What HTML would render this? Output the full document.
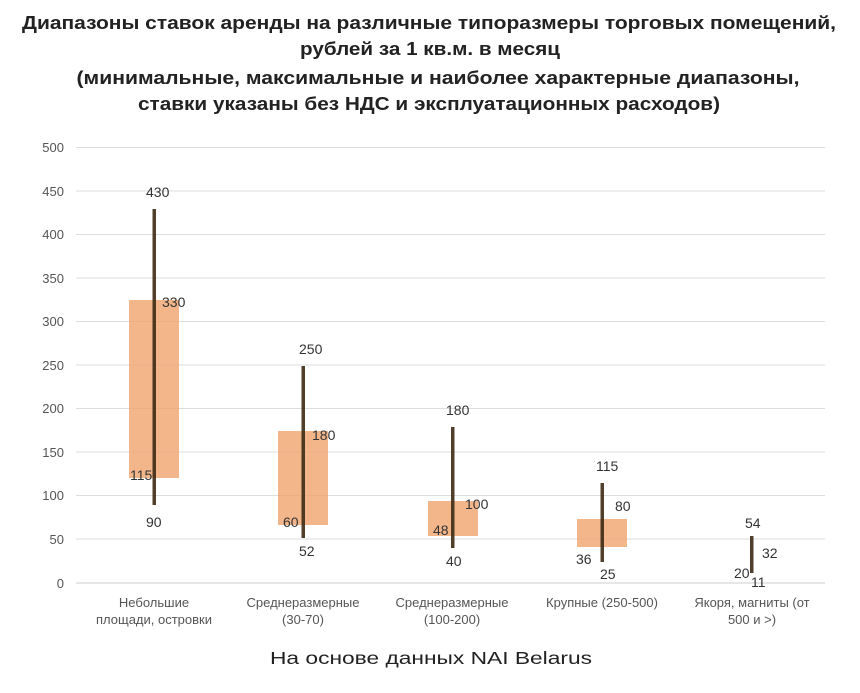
<!DOCTYPE html>
<html><head><meta charset="utf-8"><style>
body{margin:0;background:#fff;width:860px;height:688px;overflow:hidden;font-family:"Liberation Sans",sans-serif}
</style></head><body>
<svg width="860" height="688" xmlns="http://www.w3.org/2000/svg" font-family="Liberation Sans, sans-serif">
<g font-weight="bold" font-size="18.5" fill="#222" text-anchor="middle">
<text x="429" y="29" textLength="814" lengthAdjust="spacingAndGlyphs">Диапазоны ставок аренды на различные типоразмеры торговых помещений,</text>
<text x="430" y="55" textLength="260" lengthAdjust="spacingAndGlyphs">рублей за 1 кв.м. в месяц</text>
<text x="438" y="84" textLength="723" lengthAdjust="spacingAndGlyphs">(минимальные, максимальные и наиболее характерные диапазоны,</text>
<text x="429" y="110" textLength="582" lengthAdjust="spacingAndGlyphs">ставки указаны без НДС и эксплуатационных расходов)</text>
</g>
<g stroke="#ddd" stroke-width="1">
<line x1="76" x2="825" y1="147.5" y2="147.5"/><line x1="76" x2="825" y1="191" y2="191"/>
<line x1="76" x2="825" y1="234.5" y2="234.5"/><line x1="76" x2="825" y1="278" y2="278"/>
<line x1="76" x2="825" y1="321.5" y2="321.5"/><line x1="76" x2="825" y1="365" y2="365"/>
<line x1="76" x2="825" y1="408.5" y2="408.5"/><line x1="76" x2="825" y1="452" y2="452"/>
<line x1="76" x2="825" y1="495.5" y2="495.5"/><line x1="76" x2="825" y1="539" y2="539"/>
<line x1="76" x2="825" y1="583" y2="583" stroke="#ccc"/>
</g>
<g font-size="13" fill="#555" text-anchor="end">
<text x="64" y="152">500</text><text x="64" y="196">450</text><text x="64" y="239">400</text>
<text x="64" y="283">350</text><text x="64" y="326">300</text><text x="64" y="370">250</text>
<text x="64" y="413">200</text><text x="64" y="457">150</text><text x="64" y="500">100</text>
<text x="64" y="544">50</text><text x="64" y="588">0</text>
</g>
<g fill="#f0a46e" opacity="0.8">
<rect x="129" y="300" width="50" height="178"/>
<rect x="278" y="431" width="50" height="94"/>
<rect x="428" y="501" width="50" height="35"/>
<rect x="577" y="519" width="50" height="28"/>
</g>
<g fill="#3d2a14" opacity="0.9">
<rect x="152.5" y="209" width="3.5" height="296"/>
<rect x="301.5" y="366" width="3.5" height="172"/>
<rect x="451" y="427" width="3.5" height="121"/>
<rect x="600.5" y="483" width="3.5" height="79"/>
<rect x="750" y="536" width="3.5" height="37"/>
</g>
<g font-size="14" fill="#333">
<text x="146" y="197">430</text><text x="162" y="307">330</text><text x="130" y="480">115</text><text x="146" y="527">90</text>
<text x="299" y="354">250</text><text x="312" y="440">180</text><text x="283" y="527">60</text><text x="299" y="556">52</text>
<text x="446" y="415">180</text><text x="465" y="509">100</text><text x="433" y="535">48</text><text x="446" y="566">40</text>
<text x="596" y="471">115</text><text x="615" y="511">80</text><text x="576" y="564">36</text><text x="600" y="579">25</text>
<text x="745" y="528">54</text><text x="762" y="558">32</text><text x="734" y="578">20</text><text x="751" y="587">11</text>
</g>
<g font-size="13" fill="#555" text-anchor="middle">
<text x="154" y="607">Небольшие</text><text x="154" y="624">площади, островки</text>
<text x="303" y="607">Среднеразмерные</text><text x="303" y="624">(30-70)</text>
<text x="452" y="607">Среднеразмерные</text><text x="452" y="624">(100-200)</text>
<text x="602" y="607">Крупные (250-500)</text>
<text x="752" y="607">Якоря, магниты (от</text><text x="752" y="624">500 и &gt;)</text>
</g>
<text x="431" y="664" text-anchor="middle" font-size="17.5" fill="#222" textLength="322" lengthAdjust="spacingAndGlyphs">На основе данных NAI Belarus</text>
</svg>
</body></html>
